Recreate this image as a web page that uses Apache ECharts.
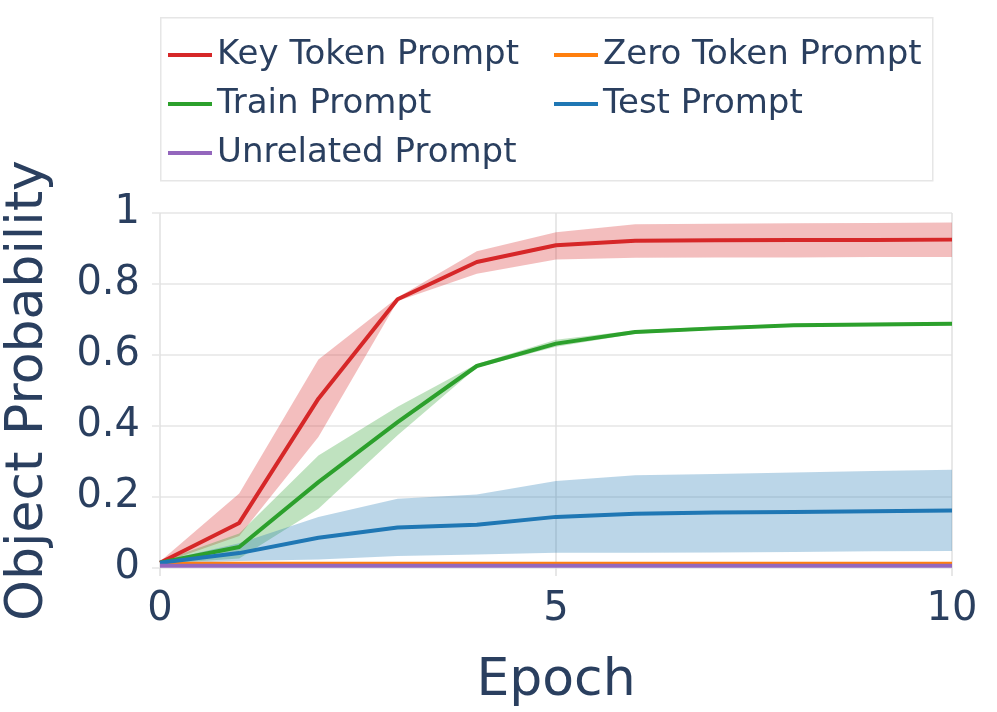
<!DOCTYPE html>
<html>
<head>
<meta charset="utf-8">
<script src="https://cdn.jsdelivr.net/npm/echarts@6/dist/echarts.min.js"></script>
<style>
  html, body { margin: 0; padding: 0; background: #fff; }
  #main { width: 997px; height: 712px; }
</style>
</head>
<body>
<div id="main"></div>
<script>
var epochs = ['0', '1', '2', '3', '4', '5', '6', '7', '8', '9', '10'];

var keyMean  = [0.015, 0.127, 0.477, 0.757, 0.862, 0.909, 0.922, 0.923, 0.924, 0.924, 0.925];
var keyLow   = [0.012, 0.090, 0.369, 0.752, 0.829, 0.869, 0.874, 0.875, 0.875, 0.876, 0.876];
var keyHigh  = [0.018, 0.210, 0.587, 0.762, 0.892, 0.946, 0.968, 0.970, 0.971, 0.972, 0.973];

var zeroMean = [0.012, 0.012, 0.012, 0.012, 0.012, 0.012, 0.012, 0.012, 0.012, 0.012, 0.012];

var trainMean = [0.015, 0.059, 0.242, 0.411, 0.569, 0.632, 0.665, 0.675, 0.684, 0.686, 0.688];
var trainLow  = [0.012, 0.027, 0.167, 0.374, 0.565, 0.623, 0.660, 0.671, 0.680, 0.682, 0.684];
var trainHigh = [0.018, 0.097, 0.317, 0.454, 0.575, 0.643, 0.670, 0.680, 0.688, 0.690, 0.692];

var testMean = [0.015, 0.042, 0.085, 0.114, 0.122, 0.144, 0.153, 0.156, 0.158, 0.160, 0.162];
var testLow  = [0.012, 0.020, 0.024, 0.034, 0.038, 0.043, 0.043, 0.044, 0.045, 0.047, 0.048];
var testHigh = [0.018, 0.070, 0.144, 0.195, 0.207, 0.245, 0.261, 0.265, 0.269, 0.273, 0.277];

var unrelMean = [0.006, 0.006, 0.006, 0.006, 0.006, 0.006, 0.006, 0.006, 0.006, 0.006, 0.006];

var txt = '#2a3f5f';
var font = 'DejaVu Sans';

function diffs(hi, lo) {
  return hi.map(function (h, i) { return +(h - lo[i]).toFixed(4); });
}
function band(id, lo, hi, color) {
  return [{
    name: id + '_lo', type: 'line', stack: id, data: lo,
    symbol: 'none', silent: true, lineStyle: { width: 0, opacity: 0 }, z: 1
  }, {
    name: id + '_hi', type: 'line', stack: id, data: diffs(hi, lo),
    symbol: 'none', silent: true, lineStyle: { width: 0, opacity: 0 },
    areaStyle: { color: color, opacity: 1 }, z: 1
  }];
}
function line(name, arr, color) {
  return {
    name: name, type: 'line', data: arr, symbol: 'none',
    lineStyle: { width: 4, color: color }, itemStyle: { color: color }, z: 3
  };
}

var chart = echarts.init(document.getElementById('main'));
var series = [].concat(
  band('kb', keyLow, keyHigh, 'rgba(214,39,40,0.3)'),
  band('tb', trainLow, trainHigh, 'rgba(44,160,44,0.3)'),
  band('sb', testLow, testHigh, 'rgba(31,119,180,0.3)'),
  [
    line('Key Token Prompt', keyMean, '#d62728'),
    line('Zero Token Prompt', zeroMean, '#ff7f0e'),
    line('Train Prompt', trainMean, '#2ca02c'),
    line('Test Prompt', testMean, '#1f77b4'),
    line('Unrelated Prompt', unrelMean, '#9467bd')
  ]
);

var legendText = { fontFamily: font, fontSize: 34, color: txt, lineHeight: 38 };
chart.setOption({
  animation: false,
  textStyle: { fontFamily: font },
  grid: { left: 160, right: 45, top: 213, bottom: 144, outerBoundsMode: 'none' },
  graphic: [{
    type: 'rect', left: 160, top: 17,
    shape: { width: 772, height: 163 },
    style: { fill: '#fff', stroke: '#e6e6e6', lineWidth: 1.5 }
  }],
  legend: [{
    left: 163, top: 31, orient: 'vertical', itemGap: 11,
    itemWidth: 44, itemHeight: 4, icon: 'rect',
    data: ['Key Token Prompt', 'Train Prompt', 'Unrelated Prompt'],
    textStyle: legendText
  }, {
    left: 549, top: 31, orient: 'vertical', itemGap: 11,
    itemWidth: 44, itemHeight: 4, icon: 'rect',
    data: ['Zero Token Prompt', 'Test Prompt'],
    textStyle: legendText
  }],
  xAxis: {
    type: 'category', data: epochs, boundaryGap: false,
    name: 'Epoch', nameLocation: 'middle', nameGap: 87,
    nameTextStyle: { fontFamily: font, fontSize: 52, color: txt },
    axisLine: { show: false },
    axisTick: { show: true, interval: 4, length: 8, lineStyle: { color: '#e0e0e0', width: 1.5 } },
    axisLabel: { interval: 4, fontFamily: font, fontSize: 40, color: txt, margin: 22 },
    splitLine: { show: true, interval: 4, lineStyle: { color: '#e0e0e0', width: 1.5 } }
  },
  yAxis: {
    type: 'value', min: 0, max: 1, interval: 0.2,
    name: 'Object Probability', nameLocation: 'middle', nameGap: 106,
    nameTextStyle: { fontFamily: font, fontSize: 52, color: txt },
    axisLine: { show: false },
    axisTick: { show: true, length: 8, lineStyle: { color: '#e6e6e6', width: 1.5 } },
    axisLabel: { fontFamily: font, fontSize: 40, color: txt, margin: 20,
      formatter: function (v) { return String(+v.toFixed(1)); } },
    splitLine: { show: true, lineStyle: { color: '#e6e6e6', width: 1.5 } }
  },
  series: series
});
window.addEventListener('resize', function () { chart.resize(); });
</script>
</body>
</html>
